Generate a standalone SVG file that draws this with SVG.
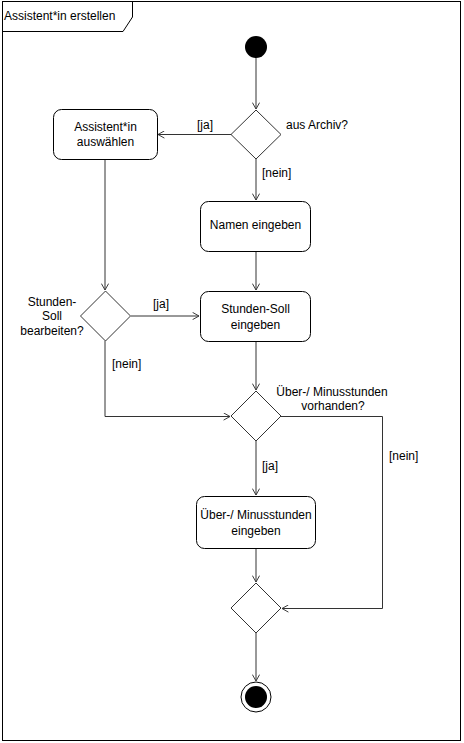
<svg xmlns="http://www.w3.org/2000/svg" width="464" height="743" viewBox="0 0 464 743">
<style>
text{font-family:"Liberation Sans",Arial,sans-serif;font-size:12px;fill:#000}
.box{fill:#fff;stroke:#000;stroke-width:1}
.dia{fill:#fff;stroke:#333;stroke-width:1}
.c{fill:none;stroke:#333;stroke-width:1}
</style>
<defs>
<marker id="a" viewBox="0 0 10 10" refX="9" refY="5" markerWidth="8" markerHeight="8" markerUnits="userSpaceOnUse" orient="auto">
<path d="M1,0.5 L9,5 L1,9.5" fill="none" stroke="#333" stroke-width="1.2"/>
</marker>
</defs>
<rect x="0" y="0" width="464" height="743" fill="#fff"/>
<g id="frame">
<rect x="2.5" y="1.5" width="458" height="739" fill="none" stroke="#000"/>
<path d="M2.5,31.5 L123,31.5 L132.5,17 L132.5,1.5" fill="none" stroke="#000"/>
<text x="4" y="20">Assistent*in erstellen</text>
</g>
<g id="connectors">
<path class="c" d="M256,58 L256,109" marker-end="url(#a)"/>
<path class="c" d="M231,134.5 L158,134.5" marker-end="url(#a)"/>
<path class="c" d="M256,159 L256,200" marker-end="url(#a)"/>
<path class="c" d="M105,159 L105,290" marker-end="url(#a)"/>
<path class="c" d="M256,251 L256,290" marker-end="url(#a)"/>
<path class="c" d="M131,316 L199,316" marker-end="url(#a)"/>
<path class="c" d="M105,341 L105,416.5 L230,416.5" marker-end="url(#a)"/>
<path class="c" d="M256,341 L256,390" marker-end="url(#a)"/>
<path class="c" d="M256,441 L256,495" marker-end="url(#a)"/>
<path class="c" d="M281,416.5 L382.5,416.5 L382.5,608.5 L282,608.5" marker-end="url(#a)"/>
<path class="c" d="M256,548 L256,582" marker-end="url(#a)"/>
<path class="c" d="M256,633 L256,681" marker-end="url(#a)"/>
<text x="197" y="129">[ja]</text>
<text x="262" y="177">[nein]</text>
<text x="153" y="308">[ja]</text>
<text x="112" y="368">[nein]</text>
<text x="262" y="470">[ja]</text>
<text x="389" y="460">[nein]</text>
</g>
<g id="start"><circle cx="256" cy="47" r="11" fill="#000"/></g>
<g id="dec1">
<path class="dia" d="M256,110 L281,134.5 L256,159 L231,134.5 Z"/>
<text x="286" y="129">aus Archiv?</text>
</g>
<g id="auswaehlen">
<rect class="box" x="53.5" y="109.5" width="104" height="50" rx="8"/>
<text x="105.5" y="131" text-anchor="middle">Assistent*in</text>
<text x="105.5" y="146" text-anchor="middle">auswählen</text>
</g>
<g id="namen">
<rect class="box" x="200.5" y="201.5" width="110" height="50" rx="8"/>
<text x="255.5" y="229" text-anchor="middle">Namen eingeben</text>
</g>
<g id="dec2">
<path class="dia" d="M105.5,291 L130.5,316 L105.5,341 L80.5,316 Z"/>
<text x="52" y="306" text-anchor="middle">Stunden-</text>
<text x="52" y="320" text-anchor="middle">Soll</text>
<text x="52" y="335" text-anchor="middle">bearbeiten?</text>
</g>
<g id="soll">
<rect class="box" x="200.5" y="291.5" width="110" height="50" rx="8"/>
<text x="255.5" y="313" text-anchor="middle">Stunden-Soll</text>
<text x="255.5" y="329" text-anchor="middle">eingeben</text>
</g>
<g id="dec3">
<path class="dia" d="M256,391 L281,416 L256,441 L231,416 Z"/>
<text x="332" y="396" text-anchor="middle">Über-/ Minusstunden</text>
<text x="333" y="410" text-anchor="middle">vorhanden?</text>
</g>
<g id="ueber">
<rect class="box" x="196.5" y="496.5" width="119" height="52" rx="8"/>
<text x="256" y="519" text-anchor="middle">Über-/ Minusstunden</text>
<text x="256" y="535" text-anchor="middle">eingeben</text>
</g>
<g id="merge">
<path class="dia" d="M256,583 L281,608 L256,633 L231,608 Z"/>
</g>
<g id="end">
<circle cx="256" cy="697" r="15" fill="#fff" stroke="#000" stroke-width="1"/>
<circle cx="256" cy="697" r="11" fill="#000"/>
</g>
</svg>
